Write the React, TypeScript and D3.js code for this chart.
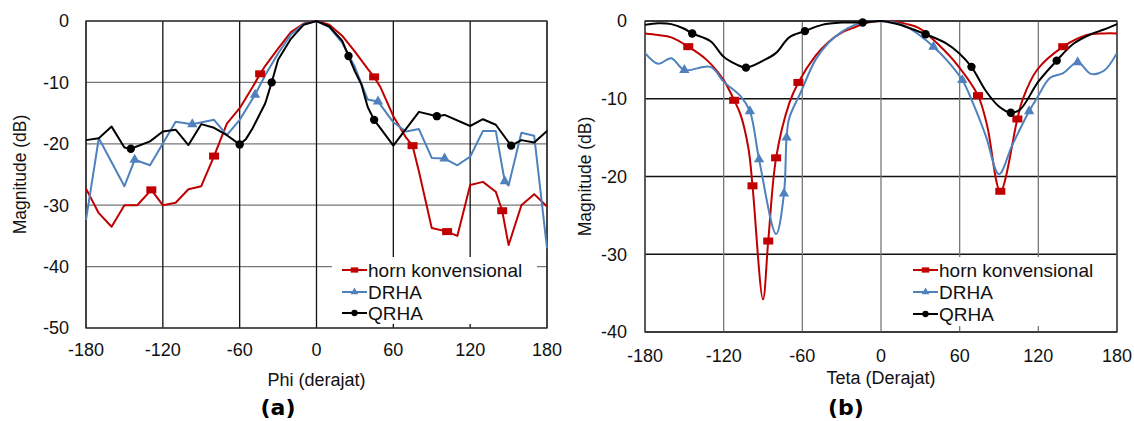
import React, { useEffect, useRef } from "react";
import * as d3 from "d3";

// ---- panel (a): Phi cut ----
const phiRedAngles = [-180, -170, -160, -150, -140, -129, -120, -110, -100, -90, -80, -70, -60, -50, -44, -40, -30, -20, -10, 0, 10, 20, 30, 40, 45, 50, 60, 70, 75, 80, 90, 102, 110, 120, 130, 140, 145, 150, 160, 170, 180];
const phiRedValues = [-27.3, -31.3, -33.5, -30, -30, -27.5, -30, -29.6, -27.4, -26.9, -22, -16.7, -14.2, -10.8, -8.6, -7.3, -4.5, -1.8, -0.4, 0, -0.6, -2.4, -5, -7.8, -9.1, -10.8, -15.5, -19, -20.3, -24.5, -33.7, -34.3, -35, -26.7, -26.2, -27.8, -30.9, -36.5, -30, -28.2, -30.2];
const phiRedMarkers = [-129, -80, -44, 45, 75, 102, 145];

const phiBlueAngles = [-180, -170, -150, -142, -130, -110, -97, -80, -70, -60, -48, -40, -30, -20, -10, 0, 10, 20, 30, 33, 40, 48, 60, 70, 80, 90, 100, 110, 120, 130, 140, 147, 150, 160, 170, 180];
const phiBlueValues = [-32.4, -19.1, -26.9, -22.6, -23.5, -16.4, -16.8, -16.1, -18.6, -16.1, -12, -8.8, -5.3, -2.2, -0.5, 0, -1, -3.5, -7.5, -9.1, -12.8, -13.1, -16.5, -18, -17.6, -22.3, -22.4, -23.5, -22.1, -17.9, -17.9, -26.1, -26.8, -18.2, -18.7, -37];
const phiBlueMarkers = [-142, -97, -48, 48, 100, 147];

const phiBlackAngles = [-180, -170, -160, -150, -145, -130, -120, -110, -100, -90, -80, -70, -60, -55, -50, -40, -35, -30, -20, -10, 0, 10, 20, 25, 30, 35, 40, 45, 50, 60, 80, 94, 100, 120, 130, 140, 152, 160, 170, 180];
const phiBlackValues = [-19.4, -19.1, -17.2, -20.6, -20.8, -19.6, -18, -17.7, -20.2, -16.8, -17.4, -18.6, -20.1, -19.2, -17.5, -13.4, -10, -6.3, -2.9, -0.6, 0, -0.9, -3.2, -5.7, -8.2, -10.3, -14, -16.1, -17.5, -20.3, -14.8, -15.5, -15.3, -17.1, -16, -16.9, -20.3, -19.4, -19.8, -17.9];
const phiBlackMarkers = [-145, -60, -35, 25, 45, 94, 152];

// ---- panel (b): Teta cut ----
const tetaRedAngles = [-180, -170, -160, -147, -133, -120, -112, -107, -101, -98, -90, -86, -80, -70, -63, -50, -40, -30, -20, -10, 0, 10, 20, 30, 43, 58, 74, 81, 91, 104, 108, 119, 139, 157, 170, 180];
const tetaRedValues = [-1.6, -1.8, -2.1, -3.3, -5.0, -7.6, -10.2, -12.1, -16.5, -21.2, -35.8, -28.3, -17.6, -10.6, -7.9, -4.5, -2.7, -1.5, -0.8, -0.2, 0, -0.1, -0.4, -1.0, -2.9, -5.6, -9.6, -13.5, -21.9, -12.6, -10.1, -6.3, -3.3, -1.8, -1.6, -1.6];
const tetaRedMarkers = [-147, -112, -98, -86, -80, -63, 74, 91, 104, 139];

const tetaBlueAngles = [-180, -170, -160, -150, -130, -120, -107, -100, -93, -80, -74, -72, -70, -61, -50, -40, -30, -20, -10, 0, 10, 20, 30, 40, 50, 62, 70, 80, 90, 100, 113, 119, 129, 139, 150, 160, 170, 180];
const tetaBlueValues = [-4.1, -5.5, -4.8, -6.3, -5.9, -7.8, -9.7, -11.6, -17.8, -27.4, -22.2, -15, -12.5, -9.1, -5.0, -2.8, -1.4, -0.5, -0.1, 0, -0.2, -0.8, -1.9, -3.3, -5.0, -7.6, -10.5, -14.8, -19.7, -16, -11.6, -9.9, -7.3, -6.7, -5.3, -6.8, -6.4, -4.1];
const tetaBlueMarkers = [-150, -100, -93, -74, -72, 40, 62, 113, 150];

const tetaBlackAngles = [-180, -170, -160, -150, -144, -130, -120, -110, -103, -90, -80, -70, -58, -45, -30, -14, 0, 10, 20, 34, 50, 60, 69, 80, 90, 99, 106, 120, 134, 147, 160, 170, 180];
const tetaBlackValues = [-0.5, -0.3, -0.4, -1.0, -1.6, -2.6, -4.6, -5.6, -6.0, -5.1, -4.1, -2.1, -1.3, -0.5, -0.2, -0.2, 0, -0.3, -0.8, -1.7, -2.9, -4.2, -5.9, -9.0, -11.0, -11.8, -11.4, -7.8, -5.1, -2.9, -1.7, -1.1, -0.4];
const tetaBlackMarkers = [-144, -103, -58, -14, 34, 69, 99, 134];

const seriesNames = ["horn konvensional", "DRHA", "QRHA"];
const xTicks = [-180, -120, -60, 0, 60, 120, 180];
const phiYTicks = [0, -10, -20, -30, -40, -50];
const tetaYTicks = [0, -10, -20, -30, -40];

const RED = "#c00000";
const BLUE = "#4f81bd";
const BLACK = "#000000";
const FONT = "'Liberation Sans', Arial, sans-serif";

const panels = [
  {
    left: 86, right: 547, top: 21, bottom: 328,
    yDomain: [-50, 0], yTicks: phiYTicks,
    vGrid: "#111", hGrid: "#777",
    xLabelY: 350, yLabelX: 69,
    xTitle: "Phi (derajat)", xTitleY: 380, yTitleX: 20,
    tag: "(a)", tagX: 278,
    legend: { x0: 332, x1: 537, y0: 257, y1: 324, sx: 342, rows: [270, 292, 313] },
    curve: d3.curveLinear,
    series: [
      { a: phiRedAngles, v: phiRedValues, m: phiRedMarkers, color: RED, shape: "rect" },
      { a: phiBlueAngles, v: phiBlueValues, m: phiBlueMarkers, color: BLUE, shape: "tri" },
      { a: phiBlackAngles, v: phiBlackValues, m: phiBlackMarkers, color: BLACK, shape: "dot" },
    ],
  },
  {
    left: 645, right: 1117, top: 21, bottom: 332,
    yDomain: [-40, 0], yTicks: tetaYTicks,
    vGrid: "#777", hGrid: "#111",
    xLabelY: 356, yLabelX: 627,
    xTitle: "Teta (Derajat)", xTitleY: 378, yTitleX: 585,
    tag: "(b)", tagX: 846,
    legend: { x0: 905, x1: 1110, y0: 257, y1: 326, sx: 913, rows: [270, 292, 314] },
    curve: d3.curveCatmullRom.alpha(0.5),
    series: [
      { a: tetaRedAngles, v: tetaRedValues, m: tetaRedMarkers, color: RED, shape: "rect" },
      { a: tetaBlueAngles, v: tetaBlueValues, m: tetaBlueMarkers, color: BLUE, shape: "tri" },
      { a: tetaBlackAngles, v: tetaBlackValues, m: tetaBlackMarkers, color: BLACK, shape: "dot" },
    ],
  },
];

function drawMarker(g, shape, color, x, y, s) {
  if (shape === "rect") {
    g.append("rect").attr("x", x - 5 * s).attr("y", y - 3.5 * s)
      .attr("width", 10 * s).attr("height", 7 * s).attr("fill", color);
  } else if (shape === "tri") {
    const tri = d3.symbol().type(d3.symbolTriangle).size(46 * s * s);
    g.append("path").attr("d", tri()).attr("transform", `translate(${x},${y})`)
      .attr("fill", color);
  } else {
    g.append("circle").attr("cx", x).attr("cy", y).attr("r", 4.2 * s).attr("fill", color);
  }
}

function drawPanel(g, p) {
  const x = d3.scaleLinear().domain([-180, 180]).range([p.left, p.right]);
  const y = d3.scaleLinear().domain(p.yDomain).range([p.bottom, p.top]);

  // grid
  g.selectAll("line.h").data(p.yTicks).join("line")
    .attr("x1", p.left).attr("x2", p.right)
    .attr("y1", (d) => y(d)).attr("y2", (d) => y(d))
    .attr("stroke", p.hGrid).attr("stroke-width", 1.3);
  g.selectAll("line.v").data(xTicks).join("line")
    .attr("x1", (d) => x(d)).attr("x2", (d) => x(d))
    .attr("y1", p.top).attr("y2", p.bottom)
    .attr("stroke", p.vGrid).attr("stroke-width", 1.3);
  g.append("rect").attr("x", p.left).attr("y", p.top)
    .attr("width", p.right - p.left).attr("height", p.bottom - p.top)
    .attr("fill", "none").attr("stroke", "#333").attr("stroke-width", 1.3);

  // tick labels
  g.selectAll("text.yt").data(p.yTicks).join("text")
    .attr("x", p.yLabelX).attr("y", (d) => y(d)).attr("dy", "0.35em")
    .attr("text-anchor", "end").attr("font-size", 18).attr("font-family", FONT)
    .attr("fill", "#111").text((d) => d);
  g.selectAll("text.xt").data(xTicks).join("text")
    .attr("x", (d) => x(d)).attr("y", p.xLabelY).attr("dy", "0.35em")
    .attr("text-anchor", "middle").attr("font-size", 18).attr("font-family", FONT)
    .attr("fill", "#111").text((d) => d);

  // titles
  g.append("text").attr("x", (p.left + p.right) / 2).attr("y", p.xTitleY).attr("dy", "0.35em")
    .attr("text-anchor", "middle").attr("font-size", 18).attr("font-family", FONT)
    .attr("fill", "#111").text(p.xTitle);
  g.append("text")
    .attr("transform", `translate(${p.yTitleX},${(p.top + p.bottom) / 2}) rotate(-90)`)
    .attr("dy", "0.35em").attr("text-anchor", "middle").attr("font-size", 17.5)
    .attr("font-family", FONT).attr("fill", "#111").text("Magnitude (dB)");
  g.append("text").attr("x", p.tagX).attr("y", 407).attr("dy", "0.35em")
    .attr("text-anchor", "middle").attr("font-size", 22).attr("font-weight", "bold")
    .attr("font-family", "'DejaVu Sans', Verdana, sans-serif").attr("fill", "#000").text(p.tag);

  // series
  const line = d3.line().x((d) => x(d[0])).y((d) => y(d[1])).curve(p.curve);
  p.series.forEach((s) => {
    const pts = s.a.map((a, i) => [a, s.v[i]]);
    g.append("path").datum(pts).attr("d", line).attr("fill", "none")
      .attr("stroke", s.color).attr("stroke-width", 2).attr("stroke-linejoin", "round");
  });
  p.series.forEach((s) => {
    s.m.forEach((a) => {
      const i = s.a.indexOf(a);
      drawMarker(g, s.shape, s.color, x(a), y(s.v[i]), 1);
    });
  });

  // legend
  const L = p.legend;
  g.append("rect").attr("x", L.x0).attr("y", L.y0)
    .attr("width", L.x1 - L.x0).attr("height", L.y1 - L.y0).attr("fill", "#fff");
  p.series.forEach((s, i) => {
    const ly = L.rows[i];
    g.append("line").attr("x1", L.sx).attr("x2", L.sx + 25).attr("y1", ly).attr("y2", ly)
      .attr("stroke", s.color).attr("stroke-width", 2);
    drawMarker(g, s.shape, s.color, L.sx + 12.5, ly, 0.75);
    g.append("text").attr("x", L.sx + 26).attr("y", ly).attr("dy", "0.35em")
      .attr("font-size", 19).attr("font-family", FONT).attr("fill", "#111")
      .text(seriesNames[i]);
  });
}

export default function App() {
  const svgRef = useRef(null);

  useEffect(() => {
    const svg = d3.select(svgRef.current);
    svg.selectAll("*").remove();
    svg.append("rect").attr("width", 1134).attr("height", 421).attr("fill", "#fff");
    panels.forEach((p) => drawPanel(svg.append("g"), p));
  }, []);

  return (
    <svg
      ref={svgRef}
      width={1134}
      height={421}
      style={{ position: "absolute", left: 0, top: 0, display: "block" }}
    ></svg>
  );
}
